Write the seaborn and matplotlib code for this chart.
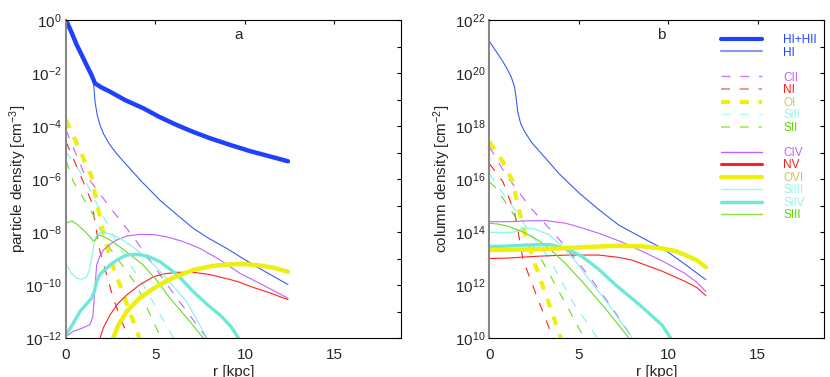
import numpy as np
import matplotlib
matplotlib.use("Agg")
import matplotlib.pyplot as plt
import seaborn as sns
from matplotlib.lines import Line2D
from matplotlib.ticker import FixedLocator, FuncFormatter

# ---- panel a : particle density, log10 values ----
r_hh_a = [0, 0.3, 0.6, 0.9, 1.15, 1.43, 1.62, 2.0, 2.45, 3.3, 4.32, 5.2, 6.18, 7.1, 8.04, 9.2, 10.3, 11.3, 12.4]
hh_a = [0, -0.45, -0.94, -1.35, -1.70, -2.08, -2.39, -2.55, -2.70, -3.02, -3.33, -3.65, -3.96, -4.22, -4.46, -4.72, -4.95, -5.13, -5.33]
r_hi_a = [0, 0.3, 0.6, 0.9, 1.15, 1.43, 1.53, 1.62, 1.75, 1.9, 2.1, 2.46, 2.9, 3.39, 4.23, 5.25, 6.2, 7.11, 8.0, 8.98, 9.72, 10.5, 11.4, 12.4]
hi_a = [0, -0.45, -0.94, -1.35, -1.70, -2.08, -2.26, -3.08, -3.6, -3.96, -4.3, -4.72, -5.1, -5.47, -6.1, -6.8, -7.35, -7.86, -8.25, -8.62, -8.93, -9.25, -9.6, -9.98]
r_civ_a = [0, 0.4, 0.78, 1.34, 1.5, 1.6, 1.71, 1.9, 2.09, 2.5, 2.83, 3.4, 4.13, 4.9, 5.62, 6.5, 7.49, 8.6, 9.72, 11.0, 12.4]
civ_a = [-11.95, -11.75, -11.66, -11.5, -11.2, -10.3, -9.25, -8.9, -8.68, -8.45, -8.3, -8.15, -8.09, -8.1, -8.18, -8.35, -8.62, -9.05, -9.56, -10.0, -10.5]
r_siiii_a = [0, 0.3, 0.6, 0.9, 1.15, 1.3, 1.43, 1.55, 1.62, 1.8, 2.09, 2.5, 3.02, 3.6, 4.32, 5.0, 5.62, 6.2, 6.74, 7.3, 7.86]
siiii_a = [-9.18, -9.55, -9.75, -9.78, -9.69, -9.45, -8.99, -8.5, -8.24, -8.05, -8.01, -8.08, -8.24, -8.5, -8.87, -9.3, -9.75, -10.2, -10.63, -11.3, -12.0]
r_siii_a = [0, 0.32, 0.6, 0.97, 1.3, 1.53, 1.65, 1.8, 2.1, 2.46, 3.3, 4.32, 5.1, 5.81, 6.7, 7.67]
siii_a = [-7.67, -7.58, -7.7, -7.92, -8.15, -8.34, -8.3, -8.11, -8.18, -8.3, -8.7, -9.25, -9.85, -10.5, -11.2, -12.0]
r_siiv_a = [0, 0.4, 0.78, 1.1, 1.43, 1.6, 1.71, 1.9, 2.2, 2.46, 2.9, 3.39, 3.95, 4.6, 5.25, 6.2, 7.11, 8.0, 8.6, 9.2, 9.63]
siiv_a = [-11.89, -11.45, -11.0, -10.75, -10.5, -10.2, -9.87, -9.6, -9.4, -9.25, -9.03, -8.87, -8.84, -8.92, -9.12, -9.6, -10.25, -10.8, -11.13, -11.55, -12.0]
r_nv_a = [1.9, 2.1, 2.46, 2.9, 3.39, 4.1, 4.88, 5.5, 6.18, 6.55, 7.11, 8.0, 9.16, 9.72, 10.5, 11.4, 12.4]
nv_a = [-12.0, -11.6, -11.13, -10.7, -10.38, -10.0, -9.69, -9.58, -9.52, -9.52, -9.52, -9.6, -9.79, -9.9, -10.1, -10.3, -10.55]
r_ovi_a = [2.64, 2.9, 3.39, 4.1, 4.88, 5.8, 7.11, 8.2, 9.16, 10.0, 10.8, 11.6, 12.4]
ovi_a = [-12.0, -11.55, -11.0, -10.5, -10.13, -9.78, -9.43, -9.28, -9.22, -9.21, -9.26, -9.35, -9.5]
r_cii_a = [0, 0.97, 1.53, 2.64, 3.76, 4.88, 6.2, 7.86]
cii_a = [-4.15, -5.72, -6.23, -7.23, -8.18, -9.25, -10.5, -12.0]
r_ni_a = [0, 0.88, 1.43, 1.9, 2.64, 3.48]
ni_a = [-4.59, -5.97, -6.86, -8.74, -10.5, -12.0]
r_oi_a = [0, 0.7, 1.43, 1.9, 2.46, 3.39, 4.1]
oi_a = [-3.77, -4.8, -5.9, -7.48, -8.99, -10.7, -12.0]
r_siii2_a = [0, 0.97, 1.9, 3.02, 4.32, 6.0]
siii2_a = [-4.97, -5.91, -7.17, -8.62, -10.0, -12.0]
r_sii_a = [0, 0.41, 1.53, 2.46, 3.95, 5.3]
sii_a = [-5.3, -6.1, -7.36, -8.62, -10.0, -12.0]

# ---- panel b : column density ----
r_hi_b = [0, 0.4, 0.76, 1.0, 1.22, 1.41, 1.5, 1.59, 1.75, 1.97, 2.4, 2.98, 3.9, 5.04, 6.2, 7.26, 8.5, 9.76, 11.0, 12.1]
hi_b = [21.2, 20.8, 20.43, 20.15, 19.86, 19.48, 19.05, 18.54, 18.1, 17.79, 17.35, 16.91, 16.2, 15.46, 14.8, 14.25, 13.8, 13.35, 12.75, 12.2]
r_civ_b = [0, 1.13, 2.0, 3.17, 4.28, 5.2, 6.13, 7.26, 7.98, 9.66, 10.9, 11.6, 12.1]
civ_b = [14.39, 14.39, 14.42, 14.43, 14.33, 14.15, 13.95, 13.66, 13.45, 12.91, 12.45, 12.1, 11.75]
r_nv_b = [0, 1.13, 2.5, 4.28, 6.13, 7.26, 7.98, 9.66, 10.9, 11.6, 12.1]
nv_b = [13.0, 13.02, 13.08, 13.13, 13.13, 13.04, 12.94, 12.52, 12.15, 11.9, 11.6]
r_ovi_b = [0, 1.5, 3.35, 5.0, 7.06, 8.5, 9.67, 10.4, 10.97, 11.6, 12.11]
ovi_b = [13.32, 13.33, 13.36, 13.42, 13.48, 13.46, 13.38, 13.28, 13.13, 12.93, 12.67]
r_siiv_b = [0, 1.0, 2.06, 3.35, 4.28, 5.2, 6.1, 7.06, 8.4, 9.65, 10.13]
siiv_b = [13.45, 13.47, 13.51, 13.53, 13.38, 13.07, 12.6, 12.0, 11.25, 10.49, 10.0]
r_siiii_b = [0, 1.32, 1.7, 2.06, 2.6, 3.35, 4.1, 4.83, 5.7, 6.69, 7.98]
siiii_b = [13.99, 13.99, 14.08, 14.16, 14.1, 13.89, 13.45, 12.88, 12.1, 11.25, 10.0]
r_siii_b = [0, 0.5, 1.13, 2.06, 2.7, 3.35, 4.2, 5.2, 6.5, 7.8]
siii_b = [14.33, 14.3, 14.2, 13.95, 13.7, 13.38, 12.85, 12.12, 11.1, 10.0]
r_cii_b = [0, 0.94, 2.26, 3.93, 5.5, 6.8, 8.0]
cii_b = [17.22, 16.15, 14.95, 13.7, 12.4, 11.2, 10.0]
r_ni_b = [0, 0.76, 1.43, 1.89, 2.7, 3.56]
ni_b = [16.59, 15.9, 14.7, 12.94, 11.5, 10.0]
r_oi_b = [0, 0.76, 1.32, 1.55, 2.0, 2.54, 3.2, 4.0]
oi_b = [17.41, 16.65, 15.9, 15.15, 13.9, 12.82, 11.55, 10.0]
r_siii2_b = [0, 0.5, 1.5, 2.4, 3.35, 4.65, 6.04]
siii2_b = [16.21, 15.7, 14.77, 13.85, 13.0, 11.37, 10.0]
r_sii_b = [0, 0.39, 1.5, 2.98, 4.1, 5.3]
sii_b = [15.9, 15.65, 14.52, 12.88, 11.5, 10.0]

legend_labels = ["HI+HII", "HI", " ", "CII", "NI", "OI", "SiII", "SII", "  ",
                 "CIV", "NV", "OVI", "SiIII", "SiIV", "SIII"]

BLUE = "#2040ff"
BLUE2 = "#3a5cf0"
MAG = "#c060ff"
RED = "#ff2020"
YEL = "#eeee10"
CYAN = "#80f4e4"
CYAN2 = "#70e8d6"
GREEN = "#66dd22"
DASH = (0, (6.5, 7))

sns.set_theme(style="white")
plt.rcParams["font.family"] = ["Liberation Sans", "DejaVu Sans"]
plt.rcParams["mathtext.fontset"] = "custom"
plt.rcParams["mathtext.rm"] = "Liberation Sans"
plt.rcParams["mathtext.it"] = "Liberation Sans"
plt.rcParams["lines.scale_dashes"] = False

fig = plt.figure(figsize=(8.3, 3.77), dpi=100)
ax_a = fig.add_axes([0.0795, 0.1034, 0.4033, 0.8435])
ax_b = fig.add_axes([0.5895, 0.1034, 0.4033, 0.8435])


def line(ax, r, v, color, lw, ls="-"):
    sns.lineplot(x=np.array(r), y=10.0 ** np.array(v), ax=ax, color=color,
                 linewidth=lw, linestyle=ls, sort=False, estimator=None)


# panel a
line(ax_a, r_hi_a, hi_a, BLUE2, 0.8)
line(ax_a, r_cii_a, cii_a, MAG, 0.8, DASH)
line(ax_a, r_ni_a, ni_a, RED, 0.8, DASH)
line(ax_a, r_siii2_a, siii2_a, CYAN, 0.8, DASH)
line(ax_a, r_sii_a, sii_a, GREEN, 0.8, DASH)
line(ax_a, r_oi_a, oi_a, YEL, 3.0, DASH)
line(ax_a, r_civ_a, civ_a, MAG, 0.8)
line(ax_a, r_nv_a, nv_a, RED, 0.8)
line(ax_a, r_siiii_a, siiii_a, CYAN, 0.8)
line(ax_a, r_siii_a, siii_a, GREEN, 0.8)
line(ax_a, r_siiv_a, siiv_a, CYAN2, 2.4)
line(ax_a, r_ovi_a, ovi_a, YEL, 3.2)
line(ax_a, r_hh_a, hh_a, BLUE, 3.2)

# panel b
line(ax_b, r_hi_b, hi_b, BLUE2, 0.8)
line(ax_b, r_cii_b, cii_b, MAG, 0.8, DASH)
line(ax_b, r_ni_b, ni_b, RED, 0.8, DASH)
line(ax_b, r_siii2_b, siii2_b, CYAN, 0.8, DASH)
line(ax_b, r_sii_b, sii_b, GREEN, 0.8, DASH)
line(ax_b, r_oi_b, oi_b, YEL, 3.0, DASH)
line(ax_b, r_civ_b, civ_b, MAG, 0.8)
line(ax_b, r_nv_b, nv_b, RED, 0.8)
line(ax_b, r_siiii_b, siiii_b, CYAN, 0.8)
line(ax_b, r_siii_b, siii_b, GREEN, 0.8)
line(ax_b, r_siiv_b, siiv_b, CYAN2, 2.4)
line(ax_b, r_ovi_b, ovi_b, YEL, 3.2)


def even_fmt(v, pos):
    e = int(round(np.log10(v)))
    return r"$10^{%d}$" % e if e % 2 == 0 else ""


for ax, lo, hi, lab, tag, lpad in [(ax_a, -12, 0, r"particle density [cm$^{-3}$]", "a", -3),
                                   (ax_b, 10, 22, r"column density [cm$^{-2}$]", "b", 1)]:
    ax.set_yscale("log")
    ax.set_xlim(0, 18.7)
    ax.set_ylim(10.0 ** lo, 10.0 ** hi)
    ax.yaxis.set_major_locator(FixedLocator([10.0 ** e for e in range(lo, hi + 1)]))
    ax.yaxis.set_major_formatter(FuncFormatter(even_fmt))
    ax.yaxis.set_minor_locator(FixedLocator([]))
    ax.set_xticks([0, 5, 10, 15])
    ax.tick_params(direction="in", length=3, width=0.8, top=True, right=True,
                   labelsize=11, color="black")
    ax.tick_params(axis="x", pad=7)
    ax.tick_params(axis="y", pad=3)
    for s in ax.spines.values():
        s.set_color("black")
        s.set_linewidth(0.8)
    ax.spines["left"].set_color("#888888")
    ax.spines["left"].set_linewidth(1.5)
    ax.set_xlabel("r [kpc]", fontsize=11, labelpad=2)
    ax.set_ylabel(lab, fontsize=11, labelpad=lpad)
    ax.text(0.515, 0.953, tag, transform=ax.transAxes,
            fontsize=11, ha="center", va="center")

# legend in panel b
handles = [
    Line2D([], [], color=BLUE, lw=3.0),
    Line2D([], [], color="#8898f4", lw=1.5),
    Line2D([], [], color="none"),
    Line2D([], [], color="#cc77ff", lw=1.0, linestyle=DASH),
    Line2D([], [], color="#f08080", lw=1.2, linestyle=DASH),
    Line2D([], [], color=YEL, lw=3.0, linestyle=DASH),
    Line2D([], [], color="#a8fff0", lw=1.0, linestyle=DASH),
    Line2D([], [], color="#99ee55", lw=1.2, linestyle=DASH),
    Line2D([], [], color="none"),
    Line2D([], [], color=MAG, lw=1.0),
    Line2D([], [], color=RED, lw=2.2),
    Line2D([], [], color=YEL, lw=3.0),
    Line2D([], [], color="#90fff0", lw=1.0),
    Line2D([], [], color=CYAN2, lw=2.5),
    Line2D([], [], color="#88e044", lw=1.0),
]
label_colors = [BLUE, BLUE, "white", MAG, RED, "#c8c860", "#90f8e8", "#55dd00", "white",
                MAG, RED, "#c8c860", "#90f8e8", "#90f8e8", "#55dd00"]
leg = ax_b.legend(handles, legend_labels, loc="upper left", bbox_to_anchor=(0.692, 0.956),
                  frameon=False, fontsize=8.5, handlelength=3.5, handletextpad=1.8,
                  labelspacing=0.045, borderpad=0, borderaxespad=0, labelcolor=label_colors)

fig.savefig("out.png", dpi=100)
